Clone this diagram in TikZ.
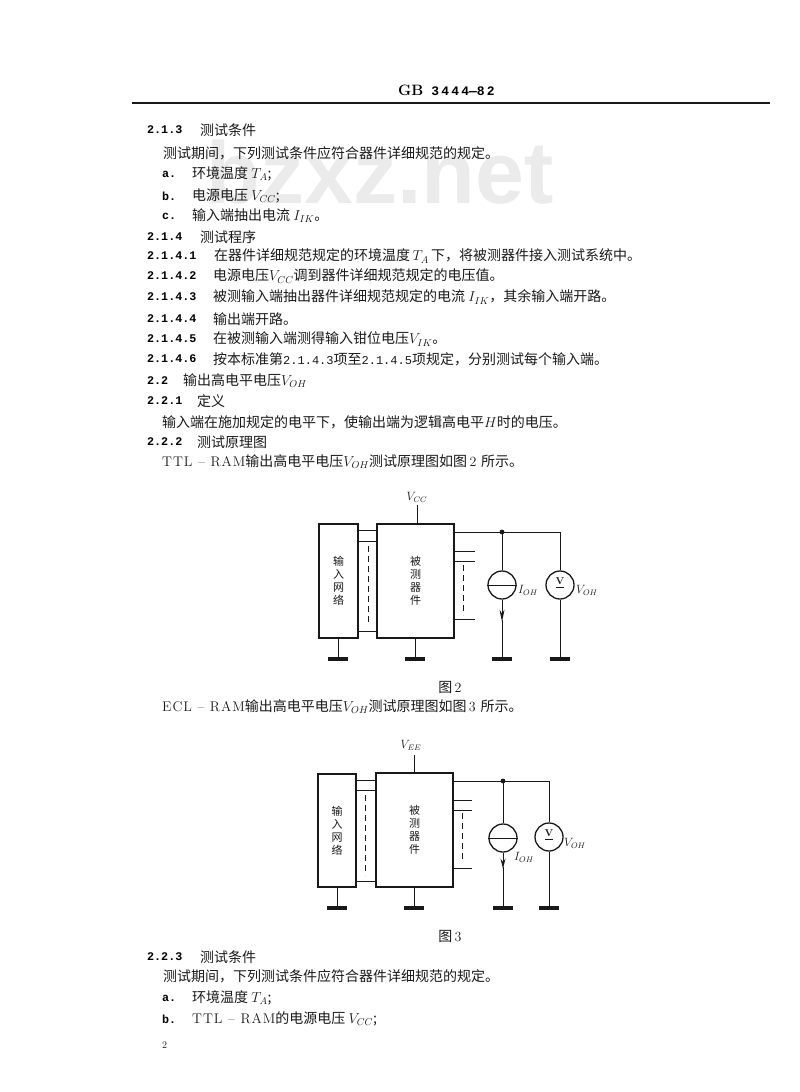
\documentclass[tikz,border=0pt]{standalone}
\usepackage{fontspec}
\usepackage{amssymb}
\usepackage{tikz}
\usepackage{xcolor}
\usetikzlibrary{
    arrows.meta,
    calc,
    positioning
}
\newfontfamily\cjk{Noto Sans CJK SC}
\newfontfamily\secno{Liberation Mono}
\newfontfamily\wmark{Liberation Sans}
\definecolor{inkc}{gray}{0.1}
\definecolor{wmarkc}{gray}{0.92}
\tikzset{
    txt/.style={anchor=west, inner sep=0pt, text=inkc, font=\cjk\fontsize{14}{14}\selectfont},
    sec/.style={anchor=west, inner sep=0pt, text=black, font=\secno\bfseries\fontsize{11.7}{12}\selectfont},
    boxlbl/.style={draw=inkc, line width=1.3pt, align=center, inner sep=0pt, text=inkc, font=\cjk\fontsize{11}{13}\selectfont},
    meter/.style={draw=inkc, circle, line width=1.3pt, minimum size=28pt, inner sep=0pt},
    lbl/.style={inner sep=0pt, text=inkc, font=\fontsize{12}{12}\selectfont},
    wire/.style={inkc, line width=0.9pt},
    gapline/.style={inkc, line width=1pt, dash pattern=on 6pt off 4pt},
    gnd/.style={inkc, line width=3.2pt}
}
\newcommand{\lat}[1]{{\rmfamily #1}}
\newcommand{\dig}[1]{{\secno\fontsize{12}{14}\selectfont #1}}
\begin{document}
\begin{tikzpicture}[x=1pt, y=-1pt]
    \useasboundingbox (0, 0) rectangle (800, 1092);

    % watermark
    \node[inner sep=0pt, text=wmarkc, font=\wmark\bfseries\fontsize{88}{88}\selectfont] (wm) at (380, 172) {bzxz.net};

    % head of the page
    \node[anchor=west, inner sep=0pt, text=black, font=\secno\bfseries\fontsize{13}{13}\selectfont] (head) at (398, 90) {{\rmfamily\bfseries\fontsize{15}{15}\selectfont GB}\kern8pt 3\,4\,4\,4—8\,2};
    \coordinate (ruleL) at (132, 103);
    \coordinate (ruleR) at (770, 103);
    \draw[inkc, line width=1.5pt] (ruleL) -- (ruleR);

    % text above the figures
    \node[sec] (n1) at (147, 130) {2.1.3};
    \node[txt] (t1) at (200, 130) {测试条件};
    \node[txt] (t2) at (163, 153) {测试期间，下列测试条件应符合器件详细规范的规定。};
    \node[sec] (n3) at (162, 174) {a.};
    \node[txt] (t3) at (192, 174) {环境温度 $T_{A}$;};
    \node[sec] (n4) at (162, 196) {b.};
    \node[txt] (t4) at (192, 196) {电源电压 $V_{CC}$;};
    \node[sec] (n5) at (162, 216) {c.};
    \node[txt] (t5) at (192, 216) {输入端抽出电流 $I_{IK}$。};
    \node[sec] (n6) at (147, 237) {2.1.4};
    \node[txt] (t6) at (200, 237) {测试程序};
    \node[sec] (n7) at (147, 256) {2.1.4.1};
    \node[txt] (t7) at (214, 256) {在器件详细规范规定的环境温度\,$T_{A}$\,下，将被测器件接入测试系统中。};
    \node[sec] (n8) at (147, 276) {2.1.4.2};
    \node[txt] (t8) at (213, 276) {电源电压$V_{CC}$调到器件详细规范规定的电压值。};
    \node[sec] (n9) at (147, 297) {2.1.4.3};
    \node[txt] (t9) at (213, 297) {被测输入端抽出器件详细规范规定的电流 $I_{IK}$，其余输入端开路。};
    \node[sec] (n10) at (147, 319) {2.1.4.4};
    \node[txt] (t10) at (213, 319) {输出端开路。};
    \node[sec] (n11) at (147, 339) {2.1.4.5};
    \node[txt] (t11) at (213, 339) {在被测输入端测得输入钳位电压$V_{IK}$。};
    \node[sec] (n12) at (147, 359) {2.1.4.6};
    \node[txt] (t12) at (213, 359) {按本标准第\dig{2.1.4.3}项至\dig{2.1.4.5}项规定，分别测试每个输入端。};
    \node[sec] (n13) at (147, 381) {2.2};
    \node[txt] (t13) at (183, 381) {输出高电平电压$V_{OH}$};
    \node[sec] (n14) at (147, 401) {2.2.1};
    \node[txt] (t14) at (197, 401) {定义};
    \node[txt] (t15) at (162, 422) {输入端在施加规定的电平下，使输出端为逻辑高电平$H$时的电压。};
    \node[sec] (n16) at (147, 442) {2.2.2};
    \node[txt] (t16) at (197, 442) {测试原理图};
    \node[txt] (t17) at (162, 462) {\lat{T\kern1pt T\kern1pt L\kern1pt\ -- \kern1pt R\kern1pt A\kern1pt M}输出高电平电压$V_{OH}$测试原理图如图\,\lat{2}\,\,所示。};

    % figure 2
    \node[boxlbl, minimum width=39pt, minimum height=114pt] (inA) at (338.5, 581) {输\\入\\网\\络};
    \node[boxlbl, minimum width=77pt, minimum height=114pt] (dutA) at (415.5, 581) {被\\测\\器\\件};
    \node[meter] (srcA) at (502, 585) {};
    \node[meter] (volA) at (560, 585) {};
    \node[lbl, font=\rmfamily\bfseries\fontsize{10}{10}\selectfont] (vA) at (560, 581) {V};
    \node[lbl] (vccA) at (417, 497) {$V_{CC}$};
    \node[lbl] (iohA) at (528, 590) {$I_{OH}$};
    \node[lbl] (vohA) at (587, 590) {$V_{OH}$};
    \node[txt, anchor=center] (capA) at (450, 687) {图\,{\rmfamily 2}};
    \coordinate (topA) at (417, 505);
    \coordinate (jA) at (502, 532);
    \coordinate (cA) at (560, 532);
    \coordinate (endA1) at (475, 551);
    \coordinate (endA2) at (475, 561);
    \coordinate (endA3) at (475, 619);
    \coordinate (gA1) at (338, 659);
    \coordinate (gA2) at (415, 659);
    \coordinate (gA3) at (502, 659);
    \coordinate (gA4) at (560, 659);
    \draw[wire]
    (topA) -- (topA |- dutA.north)
    ($(inA.north east) + (0, 7)$) -- ($(dutA.north west) + (0, 7)$)
    ($(inA.north east) + (0, 18)$) -- ($(dutA.north west) + (0, 18)$)
    ($(inA.south east) + (0, -7)$) -- ($(dutA.south west) + (0, -7)$)
    (cA -| dutA.east) -- (cA) -- (volA.north)
    (jA) -- (srcA.north)
    (endA1 -| dutA.east) -- (endA1)
    (endA2 -| dutA.east) -- (endA2)
    (endA3 -| dutA.east) -- (endA3)
    (volA.south) -- (gA4)
    (inA.south -| gA1) -- (gA1)
    (dutA.south -| gA2) -- (gA2)
    (srcA.west) -- (srcA.east);
    \draw[wire, -{Stealth[length=12pt, width=5pt]}] (srcA.south) -- ($(srcA.south) + (0, 22)$);
    \draw[wire] ($(srcA.south) + (0, 20)$) -- (gA3);
    \fill[inkc] (jA) circle (2.4);
    \draw[wire] ($(vA.south) + (-4, 3)$) -- ($(vA.south) + (4, 3)$);
    \draw[gapline] (368, 546) -- (368, 625);
    \draw[gapline] (463, 565) -- (463, 615);
    \draw[gnd] ($(gA1) + (-10, 0)$) -- ($(gA1) + (10, 0)$);
    \draw[gnd] ($(gA2) + (-10, 0)$) -- ($(gA2) + (10, 0)$);
    \draw[gnd] ($(gA3) + (-10, 0)$) -- ($(gA3) + (10, 0)$);
    \draw[gnd] ($(gA4) + (-10, 0)$) -- ($(gA4) + (10, 0)$);

    % text between the figures
    \node[txt] (t18) at (162, 707) {\lat{E\kern1pt C\kern1pt L\kern1pt\ -- \kern1pt R\kern1pt A\kern1pt M}输出高电平电压$V_{OH}$测试原理图如图\,\lat{3}\,\,所示。};

    % figure 3
    \node[boxlbl, minimum width=38pt, minimum height=113pt] (inB) at (337, 830.5) {输\\入\\网\\络};
    \node[boxlbl, minimum width=77pt, minimum height=114pt] (dutB) at (414.5, 830) {被\\测\\器\\件};
    \node[meter] (srcB) at (503, 838) {};
    \node[meter] (volB) at (549, 837) {};
    \node[lbl, font=\rmfamily\bfseries\fontsize{10}{10}\selectfont] (vB) at (549, 833) {V};
    \node[lbl] (veeB) at (411, 745) {$V_{EE}$};
    \node[lbl] (iohB) at (524, 857) {$I_{OH}$};
    \node[lbl] (vohB) at (575, 843) {$V_{OH}$};
    \node[txt, anchor=center] (capB) at (450, 936) {图\,{\rmfamily 3}};
    \coordinate (topB) at (414, 755);
    \coordinate (jB) at (503, 781);
    \coordinate (cB) at (549, 781);
    \coordinate (endB1) at (472, 800);
    \coordinate (endB2) at (472, 810);
    \coordinate (endB3) at (472, 868);
    \coordinate (gB1) at (337, 908);
    \coordinate (gB2) at (414, 908);
    \coordinate (gB3) at (503, 908);
    \coordinate (gB4) at (549, 908);
    \draw[wire]
    (topB) -- (topB |- dutB.north)
    ($(inB.north east) + (0, 7)$) -- ($(dutB.north west) + (0, 8)$)
    ($(inB.north east) + (0, 17)$) -- ($(dutB.north west) + (0, 18)$)
    ($(inB.south east) + (0, -6)$) -- ($(dutB.south west) + (0, -6)$)
    (cB -| dutB.east) -- (cB) -- (volB.north)
    (jB) -- (srcB.north)
    (endB1 -| dutB.east) -- (endB1)
    (endB2 -| dutB.east) -- (endB2)
    (endB3 -| dutB.east) -- (endB3)
    (volB.south) -- (gB4)
    (inB.south -| gB1) -- (gB1)
    (dutB.south -| gB2) -- (gB2)
    (srcB.west) -- (srcB.east);
    \draw[wire, -{Stealth[length=10pt, width=5pt]}] (srcB.south) -- ($(srcB.south) + (0, 16)$);
    \draw[wire] ($(srcB.south) + (0, 14)$) -- (gB3);
    \fill[inkc] (jB) circle (2.4);
    \draw[wire] ($(vB.south) + (-4, 3)$) -- ($(vB.south) + (4, 3)$);
    \draw[gapline] (365, 795) -- (365, 875);
    \draw[gapline] (462, 813) -- (462, 862);
    \draw[gnd] ($(gB1) + (-10, 0)$) -- ($(gB1) + (10, 0)$);
    \draw[gnd] ($(gB2) + (-10, 0)$) -- ($(gB2) + (10, 0)$);
    \draw[gnd] ($(gB3) + (-10, 0)$) -- ($(gB3) + (10, 0)$);
    \draw[gnd] ($(gB4) + (-10, 0)$) -- ($(gB4) + (10, 0)$);

    % text below the figures
    \node[sec] (n19) at (147, 957) {2.2.3};
    \node[txt] (t19) at (200, 957) {测试条件};
    \node[txt] (t20) at (163, 976) {测试期间，下列测试条件应符合器件详细规范的规定。};
    \node[sec] (n21) at (162, 998) {a.};
    \node[txt] (t21) at (192, 998) {环境温度 $T_{A}$;};
    \node[sec] (n22) at (162, 1019) {b.};
    \node[txt] (t22) at (192, 1019) {\lat{T\kern1pt T\kern1pt L\kern1pt\ -- \kern1pt R\kern1pt A\kern1pt M}的电源电压 $V_{CC}$;};
    \node[txt, font=\rmfamily\fontsize{10}{10}\selectfont] (pg) at (162, 1045) {2};
\end{tikzpicture}
\end{document}
